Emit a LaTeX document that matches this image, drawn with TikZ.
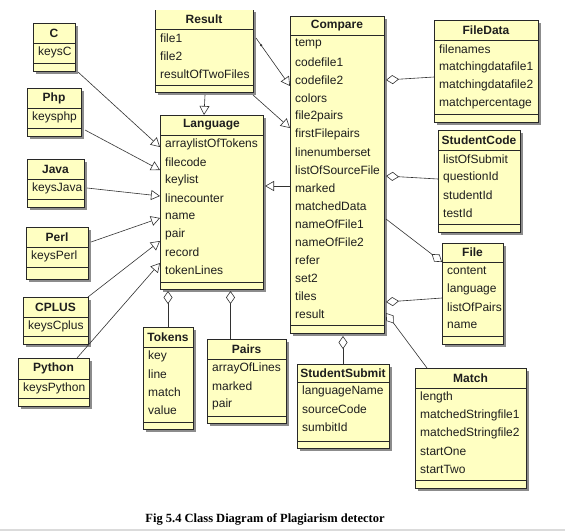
\documentclass[tikz,border=0pt]{standalone}
\usepackage{fontspec}
\setmainfont{Liberation Sans}
\newfontfamily\capfont{Liberation Serif}
\usetikzlibrary{arrows.meta,shadows,calc}
\definecolor{classfill}{RGB}{255,255,194}
\definecolor{boxborder}{RGB}{40,40,40}
\definecolor{linecol}{RGB}{50,50,50}
\definecolor{txtcol}{RGB}{30,30,30}
\tikzset{
  classbox/.style={draw=boxborder, line width=0.9pt, fill=classfill, inner sep=0pt, outer sep=0pt,
    drop shadow={shadow xshift=3pt, shadow yshift=-3pt, fill=black!50, opacity=0.9}},
  sepline/.style={draw=boxborder, line width=0.9pt},
  titletext/.style={font=\fontsize{12}{14}\selectfont\bfseries, text=txtcol, inner sep=0pt},
  attrtext/.style={font=\fontsize{12}{14}\selectfont, text=txtcol, anchor=west, inner sep=0pt},
  gen/.style={draw=linecol, line width=0.6pt, -{Triangle[length=9pt, width=10pt, fill=white]}},
  agg/.style={draw=linecol, line width=0.6pt, {Diamond[length=13pt, width=9pt, fill=white]}-},
  aggend/.style={draw=linecol, line width=0.6pt, -{Diamond[length=13pt, width=9pt, fill=white]}},
  captext/.style={font=\capfont\fontsize{12.5}{14}\selectfont\bfseries, text=black, inner sep=0pt}
}
% #1 name, #2 x, #3 top y, #4 width, #5 height, #6 title, #7 header h, #8 attr h, #9 attrs
\newcommand\umlclass[9]{%
  \node[classbox, minimum width=#4pt, minimum height=#5pt, anchor=north west] (#1) at (#2,#3) {};
  \node[titletext] (#1-t) at ([yshift={-#7*0.5pt}]#1.north) {#6};
  \draw[sepline] ([yshift={-#7*1pt}]#1.north west) -- ([yshift={-#7*1pt}]#1.north east);
  \draw[sepline] ([yshift={-(#7+#8)*1pt}]#1.north west) -- ([yshift={-(#7+#8)*1pt}]#1.north east);
  \foreach \a [count=\i] in {#9}
    \node[attrtext] (#1-a\i) at ([xshift=5pt,yshift={-(#7+(\i-0.5)*18)*1pt}]#1.north west) {\a};
}
\begin{document}
\begin{tikzpicture}[x=1pt,y=-1pt]
\useasboundingbox[fill=white] (0,0) rectangle (565,531);
\begin{scope}
\clip (0,10.5) rectangle (565,531);
\umlclass{Result}{155}{9}{98}{83}{Result}{20}{56}{file1,file2,resultOfTwoFiles}
\end{scope}
\umlclass{Compare}{290}{16}{94}{317}{Compare}{19}{290}{temp,codefile1,codefile2,colors,file2pairs,firstFilepairs,linenumberset,listOfSourceFile,marked,matchedData,nameOfFile1,nameOfFile2,refer,set2,tiles,result}
\umlclass{FileData}{434}{20}{104}{102}{FileData}{20}{74}{filenames,matchingdatafile1,matchingdatafile2,matchpercentage}
\umlclass{StudentCode}{438}{130}{82}{102}{StudentCode}{20}{74}{listOfSubmit,questionId,studentId,testId}
\umlclass{File}{442}{243}{61}{101}{File}{19}{74}{content,language,listOfPairs,name}
\umlclass{Match}{415}{368}{111}{120}{Match}{20}{92}{length,matchedStringfile1,matchedStringfile2,startOne,startTwo}
\umlclass{StudentSubmit}{297}{364}{92}{84}{StudentSubmit}{18}{59}{languageName,sourceCode,sumbitId}
\umlclass{Language}{160}{115}{103}{174}{Language}{20}{147}{arraylistOfTokens,filecode,keylist,linecounter,name,pair,record,tokenLines}
\umlclass{C}{33}{23}{42}{48}{C}{20}{20}{keysC}
\umlclass{Php}{27}{88}{54}{48}{Php}{20}{20}{keysphp}
\umlclass{Java}{27}{159}{57}{48}{Java}{20}{20}{keysJava}
\umlclass{Perl}{26}{227}{62}{52}{Perl}{20}{20}{keysPerl}
\umlclass{CPLUS}{23}{297}{65}{47}{CPLUS}{20}{19}{keysCplus}
\umlclass{Python}{18}{358}{71}{48}{Python}{21}{19}{keysPython}
\umlclass{Tokens}{143}{327}{50}{102}{Tokens}{20}{75}{key,line,match,value}
\umlclass{Pairs}{207}{339}{79}{84}{Pairs}{20}{57}{arrayOfLines,marked,pair}
% generalizations to Language
\draw[gen] ([xshift=3pt,yshift=-1pt]C.south east) -- ([yshift=-32pt]Language.north west);
\draw[gen] ([xshift=4pt,yshift=6pt]Php.south east) -- ([yshift=-55pt]Language.north west);
\draw[gen] ([xshift=3pt,yshift=19pt]Java.south east) -- ([yshift=-81pt]Language.north west);
\draw[gen] ([xshift=3pt,yshift=-15pt]Perl.north east) -- ([yshift=-103pt]Language.north west);
\draw[gen] (CPLUS.north east) -- ([yshift=-126pt]Language.north west);
\draw[gen] ([xshift=-12pt]Python.north east) -- ([yshift=-148pt]Language.north west);
\draw[gen] ([xshift=1pt,yshift=-3pt]Result.south) -- (Result.south |- Language.north);
\draw[gen] ([yshift=-170pt]Compare.north west) -- ([xshift=2pt,yshift=-71pt]Language.north east);
% Result to Compare
\coordinate (r1) at ([xshift=3pt,yshift=-29pt]Result.north east);
\draw[gen] (r1) -- ([yshift=-70pt]Compare.north west);
\fill[linecol] ($(r1)!0.15!([yshift=-70pt]Compare.north west)$) circle (1.3pt);
\draw[gen] ([xshift=0pt,yshift=-3pt]Result.south east) -- ([yshift=-112pt]Compare.north west);
% aggregations
\draw[agg] ([xshift=2pt,yshift=-64pt]Compare.north east) -- ([yshift=-57pt]FileData.north west);
\draw[agg] ([xshift=2pt,yshift=-160pt]Compare.north east) -- ([yshift=-49pt]StudentCode.north west);
\draw[aggend] ([xshift=2pt,yshift=-203pt]Compare.north east) -- ([yshift=-19pt]File.north west);
\draw[agg] ([xshift=2pt,yshift=-286pt]Compare.north east) -- ([yshift=-55pt]File.north west);
\draw[agg] ([xshift=2pt,yshift=-297pt]Compare.north east) -- ([xshift=12pt]Match.north west);
\draw[agg] ([yshift=-3pt]StudentSubmit.north |- Compare.south) -- (StudentSubmit.north);
\draw[agg] ([yshift=-2pt]Tokens.north |- Language.south) -- (Tokens.north);
\coordinate (pt) at ([xshift=-16pt]Pairs.north);
\draw[agg] ([yshift=-2pt]pt |- Language.south) -- (pt);
% caption
\node[captext] (cap) at (265,519) {Fig 5.4 Class Diagram of Plagiarism detector};
\fill[black!14] (0,528.5) rectangle (565,531);
\end{tikzpicture}
\end{document}
